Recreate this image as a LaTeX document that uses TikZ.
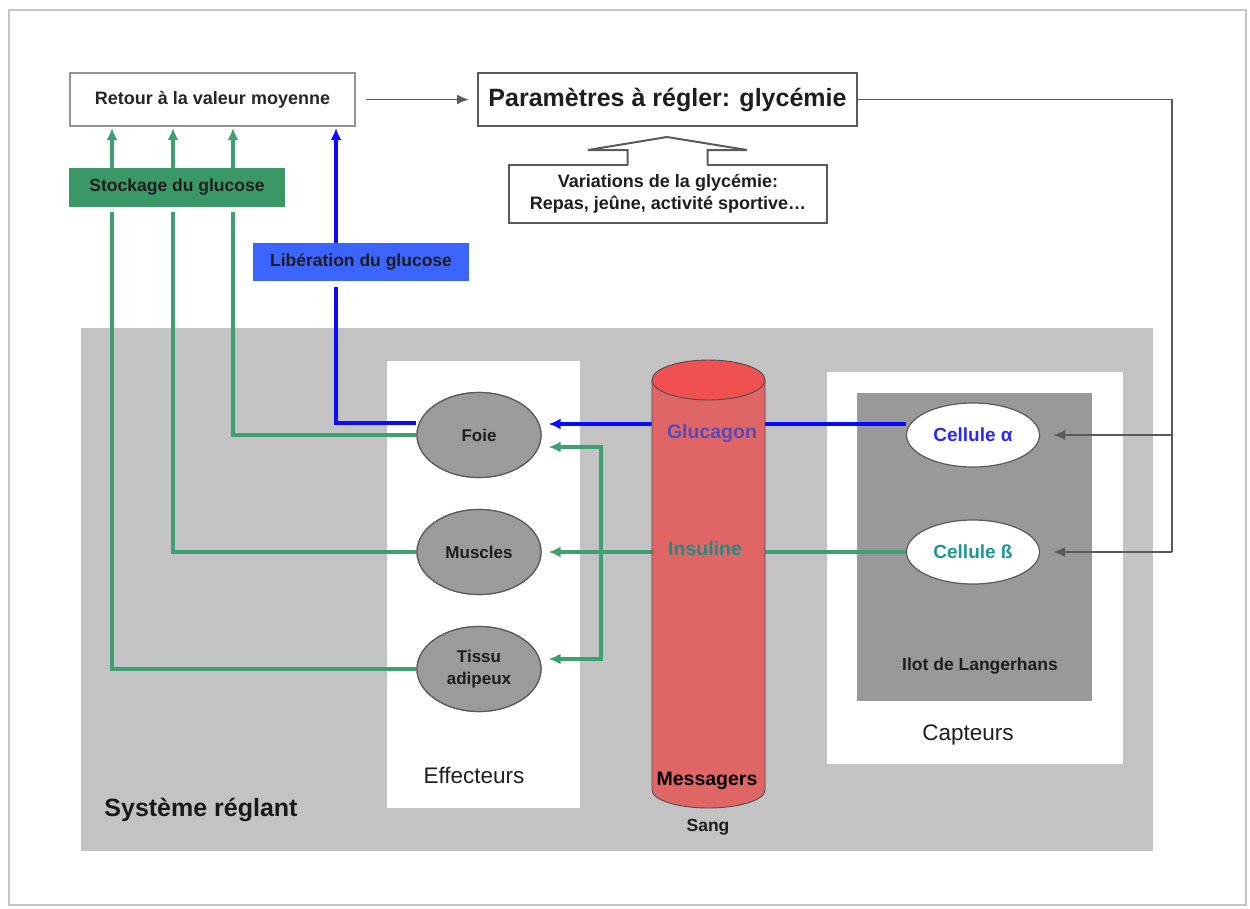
\documentclass[tikz,border=0pt]{standalone}
\usepackage{fontspec}
\setmainfont{Liberation Sans}
\usetikzlibrary{shapes.geometric,arrows.meta,calc}
\definecolor{bgray}{RGB}{195,195,195}
\definecolor{igray}{RGB}{153,153,153}
\definecolor{elgray}{RGB}{155,155,155}
\definecolor{gline}{RGB}{62,160,112}
\definecolor{gfill}{RGB}{58,152,102}
\definecolor{bline}{RGB}{10,10,255}
\definecolor{bfill}{RGB}{60,100,255}
\definecolor{cylbody}{RGB}{224,102,102}
\definecolor{cyltop}{RGB}{240,80,80}
\definecolor{glucol}{RGB}{85,75,190}
\definecolor{inscol}{RGB}{35,140,130}
\definecolor{alcol}{RGB}{40,40,250}
\definecolor{becol}{RGB}{30,150,150}
\definecolor{boxline}{RGB}{90,90,90}
\definecolor{txt}{RGB}{30,30,30}
\begin{document}
\begin{tikzpicture}[x=1pt,y=-1pt,
  fs/.style={font=\fontsize{#1}{#1}\selectfont\bfseries},
  wbox/.style={draw=boxline,line width=2pt,fill=white,inner sep=0pt,text=txt},
  cbox/.style={inner sep=0pt,text=txt},
  organ/.style={ellipse,draw=boxline,line width=1.2pt,fill=elgray,inner sep=0pt,
    minimum width=124pt,minimum height=85pt,text=txt,font=\fontsize{17}{22}\selectfont\bfseries,align=center},
  cell/.style={ellipse,draw=boxline,line width=1.2pt,fill=white,inner sep=0pt,
    minimum width=133pt,minimum height=64pt,fs=19},
  gl/.style={draw=gline,line width=3.2pt},
  bl/.style={draw=bline,line width=3.2pt},
  kl/.style={draw=boxline,line width=1.7pt},
  gtip/.style={-{Latex[length=12pt,width=11pt]}},
  ktip/.style={-{Latex[length=12pt,width=10pt]}}
]
\useasboundingbox (0,0) rectangle (1250,908);
% outer frame
\draw[gray!45,line width=2.5pt] (9,10) rectangle (1246,905);

% background panels
\fill[bgray] (81,328) rectangle (1153,851);
\fill[white] (387,361) rectangle (580,808);
\fill[white] (827,372) rectangle (1123,764);
\fill[igray] (857,393) rectangle (1092,701);

% top boxes
\node[wbox,draw=gray!85,minimum width=285pt,minimum height=53pt,fs=18,text=black!85] (retour) at (212.5,99.5) {Retour à la valeur moyenne};
\node[wbox,minimum width=379pt,minimum height=53pt,fs=25] (param) at (667.5,99.5) {Paramètres à régler: glycémie};
\node[wbox,minimum width=318pt,minimum height=58pt,font=\fontsize{18}{22}\selectfont\bfseries,align=center] (var) at (668,194)
  {Variations de la glycémie:\\Repas, jeûne, activité sportive…};
% block arrow from var to param
\fill[white] (628,168) -- (628,150) -- (588,150) -- (667,137) -- (747,150) -- (707,150) -- (707,168) -- cycle;
\draw[kl,line width=2pt,line join=miter] (627.5,165) -- (627.5,150) -- (588,150) -- (667,137) -- (747,150) -- (707.5,150) -- (707.5,165);

\node[cbox,fill=gfill,minimum width=216pt,minimum height=39pt,fs=17.5] (stock) at (177,187.5) {Stockage du glucose};
\node[cbox,fill=bfill,minimum width=216pt,minimum height=38pt,fs=17.5] (lib) at (361,262) {Libération du glucose};

\draw[kl,ktip] ([xshift=10pt]retour.east) -- ([xshift=-8pt]param.west);

% coordinates
\coordinate (g1) at (112,212);
\coordinate (g2) at (173,212);
\coordinate (g3) at (233,212);
\coordinate (b1) at (336,287);
\coordinate (br) at (601,552);
\coordinate (fr) at (1172,552);
\path (479,435) coordinate (foieC) (479,552) coordinate (musC) (479,669) coordinate (tisC);

% green up arrows
\foreach \g in {g1,g2,g3}
  \draw[gl,gtip] (stock.north -| \g) -- ([yshift=-1pt]retour.south -| \g);
\draw[bl,gtip] (lib.north -| b1) -- ([yshift=-1pt]retour.south -| b1);

% organ nodes
\node[organ] (foie) at (foieC) {Foie};
\node[organ] (muscles) at (musC) {Muscles};
\node[organ] (tissu) at (tisC) {Tissu\\adipeux};

\draw[gl] (g1) |- (tissu.west);
\draw[gl] (g2) |- (muscles.west);
\draw[gl] (g3) |- (foie.west);
\draw[bl] (b1) |- ([yshift=12pt]foie.west);
% redraw organs on top of line ends
\node[organ] at (foieC) {Foie};
\node[organ] at (musC) {Muscles};
\node[organ] at (tisC) {Tissu\\adipeux};

% cells
\node[cell,text=alcol] (calpha) at (973,435) {Cellule α};
\node[cell,text=becol] (cbeta) at (973,552) {Cellule ß};

% hormone lines
\draw[bl,gtip,shorten >=7pt] ([yshift=11pt]calpha.west) -- ([yshift=11pt]foie.east);
\draw[gl,gtip,shorten >=7pt] (cbeta.west) -- (muscles.east);
\draw[gl,gtip,shorten >=7pt] (br) |- ([yshift=-12pt]foie.east);
\draw[gl,gtip,shorten >=7pt] (br) |- ([yshift=10pt]tissu.east);

% cylinder (blood) on top of lines
\fill[cylbody,draw=black!70,line width=0.9pt] (652,380) -- (652,790) arc[start angle=180,end angle=0,x radius=56.5,y radius=18] -- (765,380) -- cycle;
\fill[cyltop,draw=black!70,line width=0.9pt] (708.5,380) ellipse[x radius=56.5,y radius=20];
\node[cbox,fs=19.5,text=glucol] (gluc) at (712,433) {Glucagon};
\node[cbox,fs=19.5,text=inscol] (ins) at (705,549) {Insuline};
\node[cbox,fs=19.5,text=black] (mess) at (707,781) {Messagers};
\node[cbox,fs=17.5,text=txt] (sang) at (708,827) {Sang};

% feedback from param to sensors
\draw[kl] (param.east) -| (fr);
\draw[kl,ktip] (fr |- calpha.east) -- ([xshift=13pt]calpha.east);
\draw[kl,ktip] (fr) -- ([xshift=13pt]cbeta.east);

% labels
\node[cbox,font=\fontsize{22.5}{27}\selectfont] (eff) at (474,775) {Effecteurs};
\node[cbox,font=\fontsize{22.5}{27}\selectfont] (capt) at (968,735) {Capteurs};
\node[cbox,fs=17.5] (ilot) at (980,666) {Ilot de Langerhans};
\node[cbox,fs=25,text=black!90] (sys) at (201,810) {Système réglant};
\end{tikzpicture}
\end{document}
